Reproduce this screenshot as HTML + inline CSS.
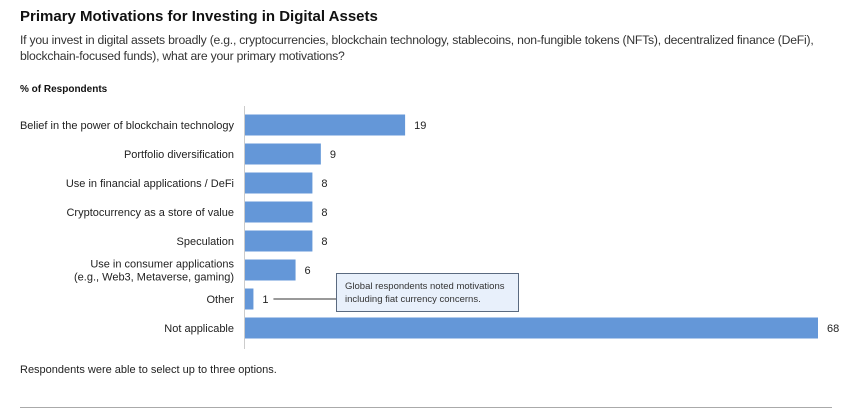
<!DOCTYPE html>
<html><head><meta charset="utf-8"><style>
body{margin:0;background:#fff;font-family:"Liberation Sans",sans-serif;color:#222;}
#wrap{position:relative;width:850px;height:419px;overflow:hidden;}
.t{position:absolute;white-space:nowrap;}
</style></head><body>
<div id="wrap">
<div class="t" style="left:20px;top:8px;font-size:15px;font-weight:bold;color:#111;">Primary Motivations for Investing in Digital Assets</div>
<div class="t" style="left:20px;top:32px;font-size:12.2px;line-height:16px;color:#333;letter-spacing:-0.22px;">If you invest in digital assets broadly (e.g., cryptocurrencies, blockchain technology, stablecoins, non-fungible tokens (NFTs), decentralized finance (DeFi),<br>blockchain-focused funds), what are your primary motivations?</div>
<div class="t" style="left:20px;top:84px;font-size:10px;font-weight:bold;color:#111;">% of Respondents</div>
<svg id="chart" width="850" height="419" style="position:absolute;left:0;top:0"></svg>
<div class="t" style="left:20px;top:364px;font-size:11px;color:#222;">Respondents were able to select up to three options.</div>
<div style="position:absolute;left:20px;top:407px;width:812px;height:1px;background:#aaa;"></div>
</div>
<script>
const categories=["Belief in the power of blockchain technology","Portfolio diversification","Use in financial applications / DeFi","Cryptocurrency as a store of value","Speculation","Use in consumer applications|(e.g., Web3, Metaverse, gaming)","Other","Not applicable"];
const values=[19,9,8,8,8,6,1,68];
const valueLabels=["19","9","8","8","8","6","1","68"];
const svg=document.getElementById('chart');
const NS='http://www.w3.org/2000/svg';
const x0=245, pxPerUnit=(818-245)/68;
const xScale=v=>x0+v*pxPerUnit;
const yCenter=i=>125+i*29;
function mk(tag,attrs){const e=document.createElementNS(NS,tag);for(const k in attrs)e.setAttribute(k,attrs[k]);svg.appendChild(e);return e;}
const axis=mk('line',{x1:244.5,x2:244.5,y1:106,y2:349,stroke:'#ccc','stroke-width':1});


categories.forEach((c,i)=>{
  const yc=yCenter(i);
  const r=mk('rect',{x:x0,y:yc-10.5,width:xScale(values[i])-x0,height:21,fill:'#6497d8'});
  
  
  const lines=c.split('|');
  lines.forEach((ln,j)=>{
    const t=mk('text',{x:234,y:yc+4+(j-(lines.length-1)/2)*13,'text-anchor':'end','font-size':11,fill:'#222','font-family':'Liberation Sans, sans-serif'});
    t.textContent=ln;
    
    
  });
  const v=mk('text',{x:xScale(values[i])+9,y:yc+4,'font-size':11,fill:'#222','font-family':'Liberation Sans, sans-serif'});
  v.textContent=valueLabels[i];
  
  
});
const cy=yCenter(6);
const ln=mk('line',{x1:xScale(values[6])+20,x2:336,y1:cy,y2:cy,stroke:'#333','stroke-width':1});


const box=mk('rect',{x:336.5,y:273.5,width:182,height:38,fill:'#e8f0fb',stroke:'#5a6a80','stroke-width':1});


["Global respondents noted motivations","including fiat currency concerns."].forEach((s,j)=>{
  const t=mk('text',{x:345,y:289+j*13,'font-size':9.5,fill:'#333','font-family':'Liberation Sans, sans-serif'});
  t.textContent=s;
  
  
});
</script>
</body></html>
